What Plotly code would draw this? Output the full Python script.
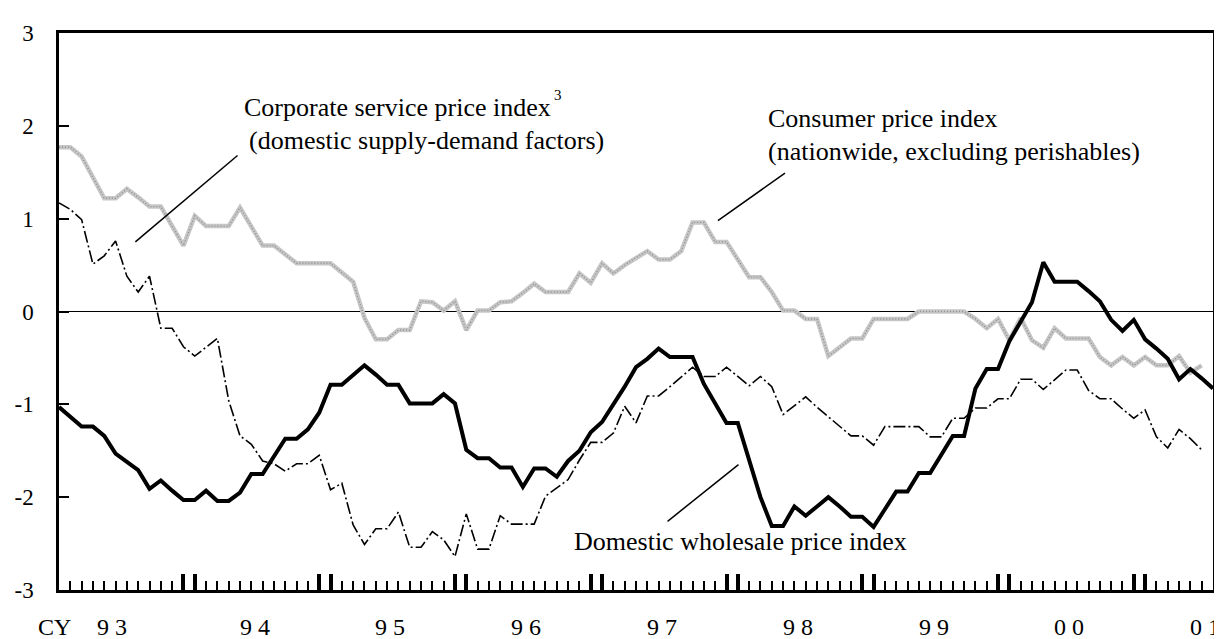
import plotly.graph_objects as go

# ---------------- data (monthly, index 0 = Jan 1993) ----------------
wpi = [-1.03, -1.14, -1.24, -1.24, -1.34, -1.53, -1.62, -1.71, -1.91, -1.82,
       -1.93, -2.03, -2.03, -1.93, -2.04, -2.04, -1.95, -1.75, -1.75, -1.55,
       -1.37, -1.37, -1.27, -1.09, -0.79, -0.79, -0.69, -0.58, -0.68, -0.79,
       -0.79, -0.99, -0.99, -0.99, -0.89, -0.99, -1.49, -1.58, -1.58, -1.68,
       -1.68, -1.89, -1.69, -1.69, -1.78, -1.61, -1.50, -1.30, -1.19, -1.00,
       -0.81, -0.60, -0.51, -0.40, -0.49, -0.49, -0.49, -0.78, -1.00, -1.20,
       -1.20, -1.60, -2.00, -2.31, -2.31, -2.10, -2.20, -2.10, -2.00, -2.10,
       -2.21, -2.21, -2.32, -2.13, -1.94, -1.94, -1.74, -1.74, -1.53, -1.34,
       -1.34, -0.83, -0.62, -0.62, -0.32, -0.11, 0.10, 0.53, 0.32, 0.32,
       0.32, 0.22, 0.11, -0.09, -0.21, -0.09, -0.30, -0.40, -0.51, -0.73,
       -0.62, -0.72, -0.83]

cspi = [1.17, 1.10, 0.99, 0.51, 0.60, 0.76, 0.38, 0.21, 0.38, -0.18,
        -0.18, -0.38, -0.48, -0.38, -0.29, -0.96, -1.34, -1.43, -1.61, -1.64,
        -1.72, -1.64, -1.64, -1.55, -1.92, -1.85, -2.30, -2.51, -2.34, -2.34,
        -2.16, -2.54, -2.54, -2.37, -2.46, -2.64, -2.18, -2.56, -2.56, -2.20,
        -2.29, -2.29, -2.29, -1.99, -1.90, -1.81, -1.60, -1.41, -1.41, -1.31,
        -1.02, -1.20, -0.91, -0.91, -0.81, -0.71, -0.60, -0.70, -0.70, -0.60,
        -0.70, -0.80, -0.70, -0.81, -1.11, -1.01, -0.92, -1.03, -1.13, -1.24,
        -1.34, -1.34, -1.44, -1.24, -1.24, -1.24, -1.24, -1.35, -1.35, -1.15,
        -1.15, -1.04, -1.04, -0.94, -0.94, -0.73, -0.73, -0.84, -0.73, -0.63,
        -0.63, -0.85, -0.94, -0.94, -1.05, -1.15, -1.06, -1.35, -1.47, -1.27,
        -1.37, -1.49]

cpi = [1.77, 1.77, 1.67, 1.44, 1.22, 1.22, 1.32, 1.23, 1.13, 1.13,
       0.92, 0.71, 1.03, 0.92, 0.92, 0.92, 1.12, 0.92, 0.71, 0.71,
       0.61, 0.52, 0.52, 0.52, 0.52, 0.42, 0.32, -0.07, -0.30, -0.30,
       -0.20, -0.20, 0.11, 0.10, 0.01, 0.11, -0.20, 0.01, 0.01, 0.10,
       0.11, 0.20, 0.30, 0.21, 0.21, 0.21, 0.41, 0.31, 0.52, 0.41,
       0.50, 0.58, 0.65, 0.56, 0.56, 0.65, 0.96, 0.96, 0.75, 0.75,
       0.56, 0.37, 0.37, 0.21, 0.01, 0.01, -0.08, -0.08, -0.48, -0.39,
       -0.29, -0.29, -0.08, -0.08, -0.08, -0.08, 0.00, 0.00, 0.00, 0.00,
       0.00, -0.08, -0.18, -0.08, -0.31, -0.07, -0.31, -0.39, -0.18, -0.29,
       -0.29, -0.29, -0.49, -0.58, -0.49, -0.58, -0.49, -0.58, -0.58, -0.48,
       -0.66, -0.58]

year_labels = ["9 3", "9 4", "9 5", "9 6", "9 7", "9 8", "9 9", "0 0", "0 1"]
year_label_pos = [4.7, 17.3, 29.3, 41.3, 53.3, 65.3, 77.3, 89.3, 101.3]
year_tick_pos = [11, 12, 23, 24, 35, 36, 47, 48, 59, 60, 71, 72, 83, 84, 95, 96]
y_tick_vals = [-3, -2, -1, 0, 1, 2, 3]
y_tick_text = ["-3", "-2", "-1", "0", "1", "2", "3"]

FONT = "Liberation Serif, Times New Roman, serif"
X_MAX = 102

x_wpi = list(range(len(wpi)))
x_cspi = list(range(len(cspi)))
x_cpi = list(range(len(cpi)))

fig = go.Figure()
# Consumer price index: grey textured line
fig.add_trace(go.Scatter(x=x_cpi, y=cpi, mode="lines",
                         line=dict(color="#c6c6c6", width=4.5), hoverinfo="skip"))
fig.add_trace(go.Scatter(x=x_cpi, y=cpi, mode="lines",
                         line=dict(color="#909090", width=1.4, dash="1px,2px"), hoverinfo="skip"))
# Corporate service price index: dash-dot
fig.add_trace(go.Scatter(x=x_cspi, y=cspi, mode="lines",
                         line=dict(color="black", width=1.6, dash="12px,3px,2px,3px"), hoverinfo="skip"))
# Domestic wholesale price index: thick black
fig.add_trace(go.Scatter(x=x_wpi, y=wpi, mode="lines",
                         line=dict(color="black", width=4), hoverinfo="skip"))

annotations = []
def txt(text, x, y, size=26, xanchor="left", xref="x", yref="y"):
    annotations.append(dict(text=text, x=x, y=y, xref=xref, yref=yref,
                            xanchor=xanchor, yanchor="middle", showarrow=False,
                            font=dict(family=FONT, size=size, color="black")))

txt("Corporate service price index", 16.2, 2.20)
txt("3", 43.6, 2.33, size=15)
txt("(domestic supply-demand factors)", 16.6, 1.84)
txt("Consumer price index", 62.5, 2.08)
txt("(nationwide, excluding perishables)", 62.5, 1.72)
txt("Domestic wholesale price index", 45.3, -2.48)
txt("%", 2.9, 3.09, size=22, xanchor="center")
txt("CY", -0.004, -0.066, size=24, xanchor="center", xref="paper", yref="paper")
for lab, pos in zip(year_labels, year_label_pos):
    txt(lab, pos / X_MAX, -0.066, size=24, xanchor="center", xref="paper", yref="paper")

shapes = []
for (x0, y0, x1, y1) in [(6.75, 0.75, 15.78, 1.68),
                         (58.24, 0.98, 64.17, 1.49),
                         (53.79, -2.26, 60.06, -1.65)]:
    shapes.append(dict(type="line", xref="x", yref="y", x0=x0, y0=y0, x1=x1, y1=y1,
                       line=dict(color="black", width=1.5)))

# the page body has an 8px margin, so the figure is sized/positioned to compensate
fig.update_layout(
    width=1214, height=631, autosize=False,
    margin=dict(l=49, r=6, t=25, b=49),
    paper_bgcolor="white", plot_bgcolor="white",
    showlegend=False,
    annotations=annotations, shapes=shapes,
    font=dict(family=FONT, color="black"),
    xaxis=dict(range=[0, X_MAX], showline=True, linecolor="black", linewidth=2.5,
               mirror=True, showgrid=False, zeroline=False,
               ticks="inside", tickmode="array", tickvals=year_tick_pos,
               ticklen=16, tickwidth=3.5, tickcolor="black", showticklabels=False,
               minor=dict(ticks="inside", tickmode="linear", tick0=0, dtick=1,
                          ticklen=9, tickwidth=1.5, tickcolor="black", showgrid=False)),
    yaxis=dict(range=[-3, 3], showline=True, linecolor="black", linewidth=2.5,
               mirror=True, showgrid=False, zeroline=True, zerolinecolor="black",
               zerolinewidth=1.2, ticks="inside", tickmode="array",
               tickvals=y_tick_vals, ticktext=y_tick_text, ticklen=10, tickwidth=2,
               tickcolor="black", ticklabelstandoff=18,
               tickfont=dict(family=FONT, size=23, color="black")),
)

fig.write_html("out.html")
